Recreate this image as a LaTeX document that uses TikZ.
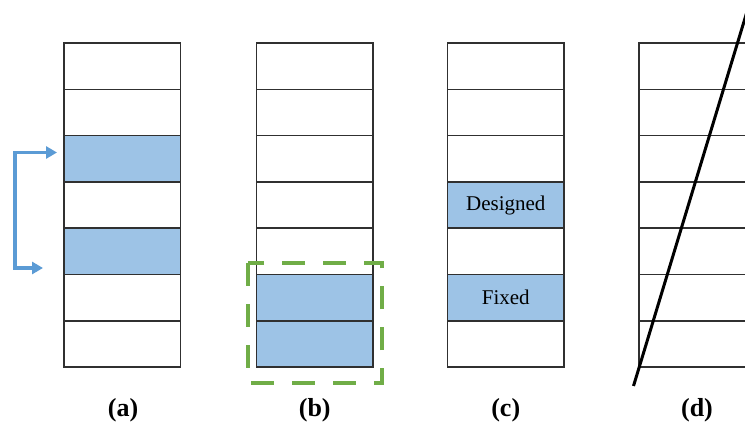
\documentclass[tikz,border=0pt]{standalone}
\usepackage{fontspec}
\setmainfont{Liberation Serif}
\usetikzlibrary{arrows.meta}
\definecolor{cellblue}{HTML}{9DC3E6}
\definecolor{arrowblue}{HTML}{5B9BD5}
\definecolor{dashgreen}{HTML}{70AD47}
\definecolor{cellline}{HTML}{303030}
\tikzset{
  cell/.style={draw=cellline, line width=1.5pt, minimum width=116.5pt, minimum height=46.3pt, inner sep=0pt, font=\fontsize{21}{24}\selectfont},
  caption/.style={font=\fontsize{26}{29}\selectfont\bfseries, inner sep=0pt},
  bluearrow/.style={draw=arrowblue, line width=3.2pt, {Triangle[length=11pt,width=12pt]}-{Triangle[length=11pt,width=12pt]}},
  greendash/.style={draw=dashgreen, line width=4.5pt, dash pattern=on 23pt off 18pt},
  diag/.style={draw=black, line width=3pt}
}
\begin{document}
\begin{tikzpicture}[x=1pt,y=-1pt]
\useasboundingbox (0,0) rectangle (745,425);
\fill[white] (0,0) rectangle (745,425);
% column (a)
\foreach \k/\f in {1/white,2/white,3/cellblue,4/white,5/cellblue,6/white,7/white}
  \node[cell,fill=\f] (a\k) at (122.25,{43+46.3*\k-23.15}) {};
% column (b)
\foreach \k/\f in {1/white,2/white,3/white,4/white,5/white,6/cellblue,7/cellblue}
  \node[cell,fill=\f] (b\k) at (314.75,{43+46.3*\k-23.15}) {};
% column (c)
\foreach \k/\f/\t in {1/white/,2/white/,3/white/,4/cellblue/Designed,5/white/,6/cellblue/Fixed,7/white/}
  \node[cell,fill=\f] (c\k) at (505.75,{43+46.3*\k-23.15}) {\t};
% column (d), clipped at right border
\begin{scope}
\clip (0,0) rectangle (745,425);
\foreach \k in {1,...,7}
  \node[cell,minimum width=130pt] (d\k) at (704,{43+46.3*\k-23.15}) {};
\coordinate (dlow) at (633.5,386);
\coordinate (dhigh) at (747.5,10);
\draw[diag] (dlow) -- (dhigh);
\end{scope}
% arrow in (a)
\coordinate (at) at (57,152.5);
\coordinate (ab) at (43,268);
\draw[bluearrow] (at) -- (15,152.5) -- (15,268) -- (ab);
% green dashed box in (b)
\coordinate (gtl) at (248,263);
\coordinate (gbr) at (382,383);
\draw[greendash] (gtl) rectangle (gbr);
% captions
\node[caption] (la) at (123,410) {(a)};
\node[caption] (lb) at (314.75,410) {(b)};
\node[caption] (lc) at (505.75,410) {(c)};
\node[caption] (ld) at (697,410) {(d)};
\end{tikzpicture}
\end{document}
